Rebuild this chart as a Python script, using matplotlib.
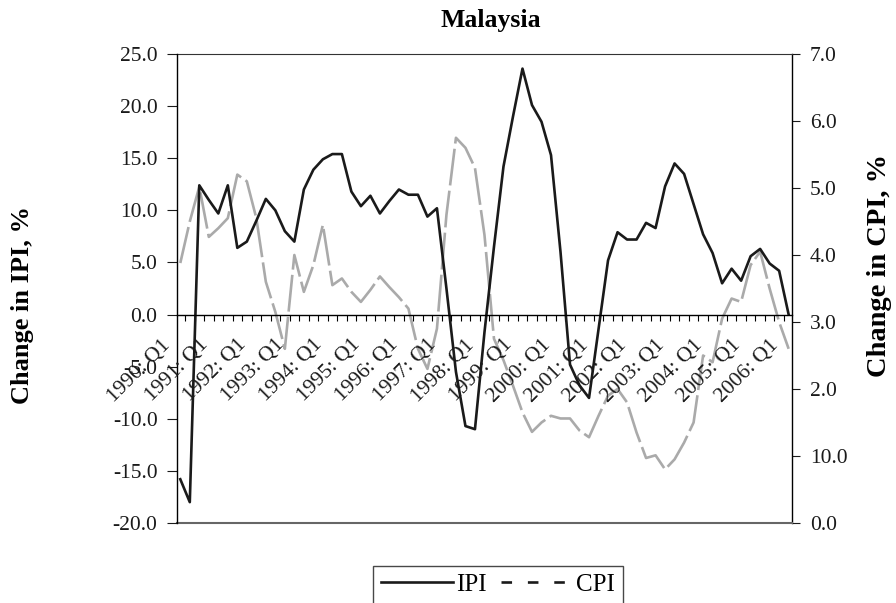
import numpy as np
import matplotlib.pyplot as plt
from matplotlib.lines import Line2D
from matplotlib.transforms import offset_copy

plt.rcParams['font.family'] = ['Liberation Serif', 'DejaVu Serif']
plt.rcParams['axes.unicode_minus'] = False

# quarterly series, 1990 Q1 .. 2006 Q1
years = list(range(1990, 2007))
year_labels = ["{0}: Q1".format(y) for y in years]

ipi = [-15.8, -18.0, 12.4, 11.0, 9.7, 12.4, 6.4, 7.0, 9.0, 11.1,
       10.0, 8.0, 7.0, 12.0, 13.9, 14.9, 15.4, 15.4, 11.8, 10.4,
       11.4, 9.7, 10.9, 12.0, 11.5, 11.5, 9.4, 10.2, 2.5, -5.5,
       -10.7, -11.0, -1.7, 6.5, 14.2, 19.0, 23.6, 20.1, 18.5, 15.3,
       6.0, -4.8, -6.8, -8.0, -1.4, 5.2, 7.9, 7.2, 7.2, 8.8,
       8.3, 12.3, 14.5, 13.5, 10.6, 7.7, 5.9, 3.0, 4.4, 3.25,
       5.6, 6.3, 4.9, 4.2, 0.0]

cpi = [3.88, 4.5, 5.02, 4.27, 4.4, 4.55, 5.2, 5.1, 4.55, 3.6,
       3.15, 2.6, 4.0, 3.45, 3.85, 4.45, 3.55, 3.65, 3.45, 3.3,
       3.48, 3.68, 3.52, 3.37, 3.2, 2.6, 2.3, 2.9, 4.6, 5.75,
       5.6, 5.3, 4.3, 2.75, 2.43, 2.05, 1.65, 1.36, 1.5, 1.6,
       1.56, 1.56, 1.38, 1.28, 1.6, 1.9, 2.0, 1.8, 1.35, 0.97,
       1.01, 0.8, 0.95, 1.2, 1.5, 2.5, 2.4, 3.05, 3.35, 3.3,
       3.85, 4.05, 3.5, 3.0, 2.6]

ipi_ticks = np.arange(-20, 26, 5)
cpi_ticks = np.arange(0, 8, 1)
cpi_tick_labels = ["0.0", "10.0", "2.0", "3.0", "4.0", "5.0", "6.0", "7.0"]

TICK_SIZE = 15.5


def main():
    fig = plt.figure(figsize=(8.96, 6.03), dpi=100)
    ax = fig.add_axes([0.1975, 0.1327, 0.6864, 0.7777])
    ax2 = ax.twinx()

    x = np.arange(len(ipi))
    ax2.plot(x, cpi, color='#aaaaaa', lw=1.9, dashes=(14, 2),
             solid_capstyle='butt')
    ax.plot(x, ipi, color='#1a1a1a', lw=1.9)

    # black series sits above the grey one
    ax.set_zorder(ax2.get_zorder() + 1)
    ax.patch.set_visible(False)

    ax.set_xlim(-0.35, len(ipi) - 1 + 0.35)
    ax.set_ylim(-20, 25)
    ax2.set_ylim(0, 7)

    ax.set_yticks(ipi_ticks)
    ax.set_yticklabels(["{0:.1f}".format(v) for v in ipi_ticks])
    ax2.set_yticks(cpi_ticks)
    ax2.set_yticklabels(cpi_tick_labels)

    ax.tick_params(axis='y', direction='out', length=7, width=0.8,
                   pad=7, labelsize=TICK_SIZE, colors='#1a1a1a')
    ax2.tick_params(axis='y', direction='out', length=6, width=0.8,
                    pad=7, labelsize=TICK_SIZE, colors='#1a1a1a')

    # category axis runs along zero
    ax.spines['bottom'].set_position(('data', 0))
    ax.spines['bottom'].set_linewidth(1.0)
    ax.spines['top'].set_visible(False)
    ax.spines['right'].set_visible(False)
    ax.spines['left'].set_linewidth(1.0)
    ax2.spines['left'].set_visible(False)
    ax2.spines['right'].set_linewidth(1.0)
    ax2.spines['top'].set_color('#333333')
    ax2.spines['bottom'].set_color('#666666')
    ax2.spines['bottom'].set_linewidth(1.5)

    ax.set_xticks(np.arange(0, len(ipi), 4))
    ax.set_xticklabels([])
    ax.set_xticks(np.arange(0.5, len(ipi) - 1, 1), minor=True)
    ax.tick_params(axis='x', which='major', length=0)
    ax.tick_params(axis='x', which='minor', direction='out', length=4,
                   width=0.8)

    label_tf = offset_copy(ax.transData, fig=fig, x=-9, y=-20,
                           units='points')
    for i, lab in enumerate(year_labels):
        ax.text(i * 4, 0, lab, transform=label_tf, rotation=45,
                rotation_mode='anchor', ha='right', va='center',
                fontsize=TICK_SIZE, color='#1a1a1a')

    fig.text(491 / 896, 1 - 27 / 603, "Malaysia", ha='center',
             va='baseline', fontsize=18.5, fontweight='bold')
    fig.text(22 / 896, 0.494, "Change in IPI, %", rotation=90,
             ha='center', va='center', fontsize=19, fontweight='bold')
    fig.text(879 / 896, 0.56, "Change in CPI, %", rotation=90,
             ha='center', va='center', fontsize=20.5, fontweight='bold')

    handles = [Line2D([], [], color='#1a1a1a', lw=1.9),
               Line2D([], [], color='#1a1a1a', lw=1.9, dashes=(4, 6))]
    leg = fig.legend(handles, ["IPI", "CPI"], loc='upper center',
                     bbox_to_anchor=(498 / 896, 1 - 566 / 603), ncol=2,
                     fontsize=18, frameon=True, fancybox=False,
                     edgecolor='#1a1a1a', handlelength=2.9,
                     handletextpad=0.1, columnspacing=0.6,
                     borderpad=0.3, borderaxespad=0)
    leg.get_frame().set_linewidth(1.0)

    fig.savefig("out.png", dpi=100)


if __name__ == "__main__":
    main()
